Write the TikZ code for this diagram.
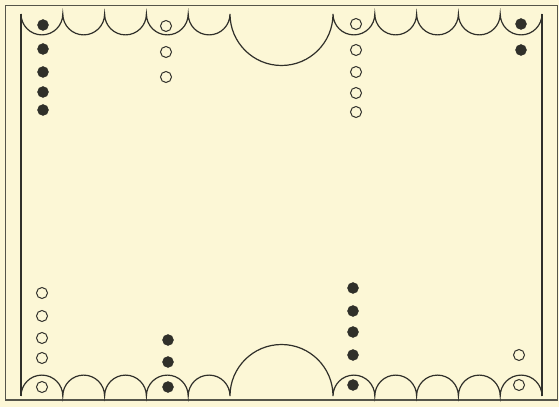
\documentclass[tikz,border=0pt]{standalone}
\definecolor{paper}{HTML}{FCF7D6}
\definecolor{ink}{HTML}{30302A}
\definecolor{frame}{HTML}{55554A}
\tikzset{
  blackman/.style={circle, fill=ink, draw=ink, line width=0.4pt, minimum size=11pt, inner sep=0pt},
  whiteman/.style={circle, draw=ink, fill=paper, line width=1pt, minimum size=11pt, inner sep=0pt},
  edge/.style={draw=ink, line width=1.2pt},
  rim/.style={draw=frame, line width=0.9pt}
}
\begin{document}
\begin{tikzpicture}[x=1pt,y=1pt]
  \fill[paper] (0,0) rectangle (559,407);
  \useasboundingbox (0,0) rectangle (559,407);
  % outer frame, heavier along the foot
  \draw[rim] (5,7) rectangle (557,402);
  \draw[draw=frame, line width=1.6pt] (5,7) -- (557,7);
  % side rails of the board
  \draw[edge] (21,393) -- (21,11);
  \draw[edge] (542,393) -- (542,11);
  % top row of scalloped points with the central half-round
  \draw[edge] (21,393)
    arc (180:360:20.9) arc (180:360:20.9) arc (180:360:20.9)
    arc (180:360:20.9) arc (180:360:20.9)
    arc (180:360:51.5)
    arc (180:360:20.9) arc (180:360:20.9) arc (180:360:20.9)
    arc (180:360:20.9) arc (180:360:20.9);
  % bottom row
  \draw[edge] (21,11)
    arc (180:0:20.9) arc (180:0:20.9) arc (180:0:20.9)
    arc (180:0:20.9) arc (180:0:20.9)
    arc (180:0:51.5)
    arc (180:0:20.9) arc (180:0:20.9) arc (180:0:20.9)
    arc (180:0:20.9) arc (180:0:20.9);
  % men on the board
  \foreach \y [count=\i] in {382,358,335,315,297}
    \node[blackman] (tl\i) at (43,\y) {};
  \foreach \y [count=\i] in {381,355,330}
    \node[whiteman] (tm\i) at (166,\y) {};
  \foreach \y [count=\i] in {383,357,335,314,295}
    \node[whiteman] (tr\i) at (356,\y) {};
  \foreach \y [count=\i] in {383,357}
    \node[blackman] (tc\i) at (521,\y) {};
  \foreach \y [count=\i] in {114,91,69,49,20}
    \node[whiteman] (bl\i) at (42,\y) {};
  \foreach \y [count=\i] in {67,45,20}
    \node[blackman] (bm\i) at (168,\y) {};
  \foreach \y [count=\i] in {119,96,75,52,22}
    \node[blackman] (br\i) at (353,\y) {};
  \foreach \y [count=\i] in {52,22}
    \node[whiteman] (bc\i) at (519,\y) {};
\end{tikzpicture}
\end{document}
